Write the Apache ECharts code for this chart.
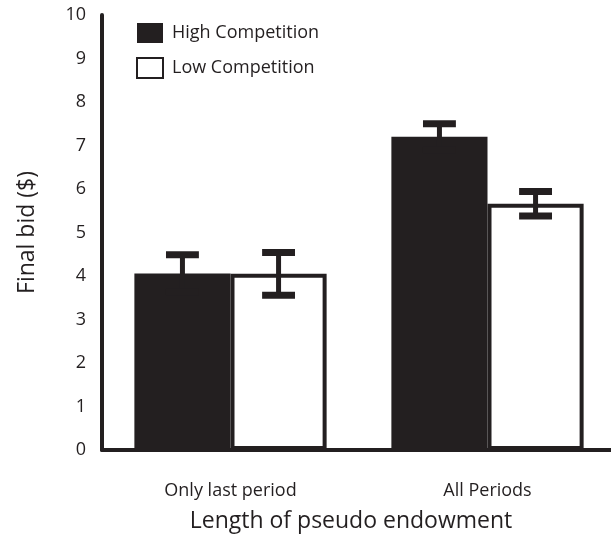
<!DOCTYPE html>
<html>
<head>
<meta charset="utf-8">
<script src="https://cdn.jsdelivr.net/npm/echarts@6/dist/echarts.min.js"></script>
<style>html,body{margin:0;padding:0;background:#fff}#c{width:611px;height:536px}</style>
</head>
<body>
<div id="c"></div>
<script>
var categories = ['Only last period', 'All Periods'];
var seriesNames = ['High Competition', 'Low Competition'];
var highValues = [4.06, 7.20];
var lowValues = [4.05, 5.66];
var highErr = [0.43, 0.30];
var lowErr = [0.49, 0.28];
var yTicks = [0, 1, 2, 3, 4, 5, 6, 7, 8, 9, 10];

var INK = '#231f20';
var FONT = 'Open Sans';
var BAR_FRAC = 0.374;

function errData(vals, errs) {
  return vals.map(function (v, i) { return [i, v - errs[i], v + errs[i]]; });
}
function errRender(side) {
  return function (params, api) {
    var ci = api.value(0);
    var lo = api.coord([ci, api.value(1)]);
    var hi = api.coord([ci, api.value(2)]);
    var band = api.size([1, 0])[0];
    var x = lo[0] + side * band * BAR_FRAC / 2;
    var capW = band * 0.128;
    var st = { stroke: INK, lineWidth: 7 };
    return {
      type: 'group',
      children: [
        { type: 'line', shape: { x1: x, y1: lo[1], x2: x, y2: hi[1] }, style: { stroke: INK, lineWidth: 5 } },
        { type: 'line', shape: { x1: x - capW / 2, y1: hi[1], x2: x + capW / 2, y2: hi[1] }, style: st },
        { type: 'line', shape: { x1: x - capW / 2, y1: lo[1], x2: x + capW / 2, y2: lo[1] }, style: st }
      ]
    };
  };
}

var chart = echarts.init(document.getElementById('c'));
chart.setOption({
  animation: false,
  backgroundColor: '#fff',
  textStyle: { fontFamily: FONT, color: INK },
  grid: { left: 102, right: -5, top: 15, bottom: 86, outerBoundsMode: 'none', containLabel: false },
  legend: {
    orient: 'vertical', left: 136, top: 23, padding: 0, itemWidth: 26, itemHeight: 20, itemGap: 14,
    textStyle: { fontFamily: FONT, fontSize: 18, color: INK, padding: [0, 0, 0, 4] },
    data: [
      { name: seriesNames[0], icon: 'rect' },
      { name: seriesNames[1], icon: 'rect', itemStyle: { color: '#fff', borderColor: INK, borderWidth: 2 } }
    ]
  },
  xAxis: {
    type: 'category', data: categories,
    axisLine: { lineStyle: { color: INK, width: 4 } },
    axisTick: { show: false },
    axisLabel: { margin: 32, fontSize: 18, color: INK, fontFamily: FONT },
    name: 'Length of pseudo endowment', nameLocation: 'middle', nameGap: 60,
    nameTextStyle: { fontSize: 23, color: INK, fontFamily: FONT, padding: [0, 16, 0, 0] }
  },
  yAxis: {
    type: 'value', min: yTicks[0], max: yTicks[yTicks.length - 1], interval: 1,
    axisLine: { show: true, lineStyle: { color: INK, width: 4 } },
    axisTick: { show: false },
    splitLine: { show: false },
    axisLabel: { margin: 16, fontSize: 18, color: INK, fontFamily: FONT },
    name: 'Final bid ($)', nameLocation: 'middle', nameGap: 63,
    nameTextStyle: { fontSize: 23, color: INK, fontFamily: FONT }
  },
  series: [
    { name: seriesNames[0], type: 'bar', data: highValues, barWidth: (BAR_FRAC * 100) + '%', barGap: '0%',
      itemStyle: { color: INK } },
    { name: seriesNames[1], type: 'bar', data: lowValues, barWidth: (BAR_FRAC * 100) + '%', barGap: '0%',
      itemStyle: { color: '#fff', borderColor: INK, borderWidth: 4 } },
    { type: 'custom', name: 'errHigh', data: errData(highValues, highErr), renderItem: errRender(-1), z: 5 },
    { type: 'custom', name: 'errLow', data: errData(lowValues, lowErr), renderItem: errRender(1), z: 5 }
  ]
});
</script>
</body>
</html>
